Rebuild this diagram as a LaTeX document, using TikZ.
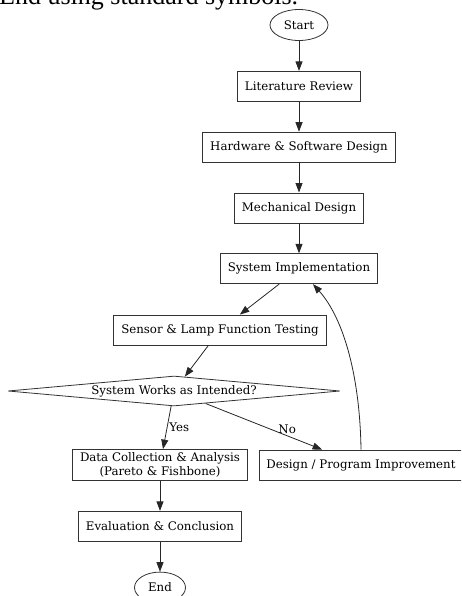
\documentclass[tikz,border=0pt]{standalone}
\usepackage{fontspec}
\newfontfamily\dvs{DejaVu Serif}
\newfontfamily\lbs{Liberation Serif}
\usetikzlibrary{arrows.meta,positioning,shapes.geometric}

\begin{document}
\begin{tikzpicture}[
 x=1pt,y=-1pt,
 node distance=30pt,
 box/.style={draw=black!80,line width=.8pt,font=\dvs\fontsize{11.8}{13.5}\selectfont,
 align=center,inner xsep=7.5,minimum height=30},
 term/.style={box,ellipse,inner sep=0,minimum width=58,minimum height=31},
 decide/.style={box,diamond,inner sep=0,aspect=11,minimum width=332,minimum height=30},
 arr/.style={-{Triangle[length=9.5pt,width=7pt]},line width=.8pt,draw=black!85},
 lbl/.style={font=\dvs\fontsize{11.8}{13.5}\selectfont,inner sep=2}]
\clip (0,0) rectangle (461,596);
\node[font=\lbs\fontsize{26}{30}\selectfont,anchor=base west,inner sep=0] (title) at (-1,5)
 {End using standard symbols.};
\node[term] (start) at (299,25) {Start};
\node[box,below=of start] (lit) {Literature Review};
\node[box,below=of lit] (hw) {Hardware \& Software Design};
\node[box,below=of hw] (mech) {Mechanical Design};
\node[box,below=of mech] (impl) {System Implementation};
\node[box] (test) at (220,330) {Sensor \& Lamp Function Testing};
\node[decide] (works) at (174,391) {System Works as Intended?};
\node[box] (data) at (160,465) {Data Collection \& Analysis\\(Pareto \& Fishbone)};
\node[box] (improve) at (361,465) {Design / Program Improvement};
\node[box,below=of data] (eval) {Evaluation \& Conclusion};
\node[term,minimum width=51,below=of eval] (end) {End};
\draw[arr] (start)--(lit);
\draw[arr] (lit)--(hw);
\draw[arr] (hw)--(mech);
\draw[arr] (mech)--(impl);
\draw[arr] (impl)--(test);
\draw[arr] (test)--(works);
\draw[arr] (works)--node[lbl,right] {Yes} (data);
\draw[arr] (works)--node[lbl,above,pos=.7] {No} (improve);
\draw[arr] (improve.north) .. controls (360,380) and (345,320) .. (impl.south -| 313,0);
\draw[arr] (data)--(eval);
\draw[arr] (eval)--(end);
\end{tikzpicture}
\end{document}
